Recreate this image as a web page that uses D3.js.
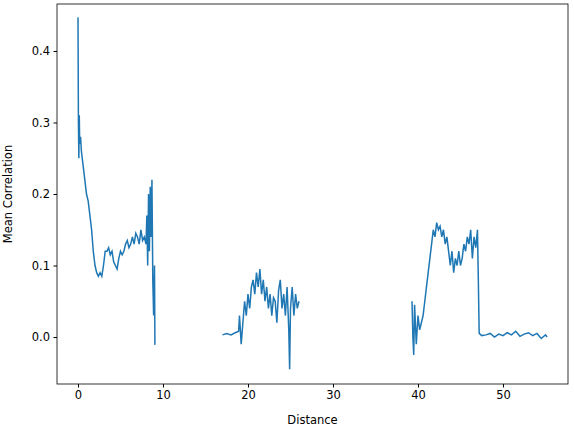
<!DOCTYPE html>
<html><head><meta charset="utf-8">
<script src="https://cdn.jsdelivr.net/npm/d3@7"></script>
<style>body{margin:0;background:#fff}text{font-family:"DejaVu Sans",sans-serif}</style>
</head><body><svg id="c" width="574" height="428"></svg>
<script>
const distance = [0,0.05,0.1,0.15,0.2,0.3,0.4,0.5,0.6,0.8,1.0,1.2,1.4,1.6,1.8,2.0,2.2,2.4,2.6,2.8,3.0,3.2,3.4,3.6,3.8,4.0,4.2,4.4,4.6,4.8,5.0,5.2,5.4,5.6,5.8,6.0,6.2,6.4,6.6,6.8,7.0,7.2,7.4,7.6,7.8,8.0,8.1,8.2,8.3,8.4,8.5,8.6,8.7,8.8,8.9,9.0,9.05,9.1,
 13,
 17,17.5,18,18.5,18.9,19.0,19.2,19.4,19.6,19.8,20.0,20.2,20.4,20.6,20.8,21.0,21.2,21.4,21.6,21.8,22.0,22.2,22.4,22.6,22.8,23.0,23.2,23.4,23.6,23.8,24.0,24.2,24.4,24.6,24.8,24.9,25.0,25.2,25.4,25.6,25.8,26.0,
 32,
 39.3,39.4,39.5,39.6,39.8,40.0,40.2,40.4,40.6,40.8,41.0,41.2,41.4,41.6,41.8,42.0,42.2,42.4,42.6,42.8,43.0,43.2,43.4,43.6,43.8,44.0,44.2,44.4,44.6,44.8,45.0,45.2,45.4,45.6,45.8,46.0,46.2,46.4,46.6,46.8,47.0,47.1,47.2,47.5,48,48.5,49,49.5,50,50.5,51,51.5,52,52.5,53,53.5,54,54.5,55,55.2];
const correlation = [0.447,0.30,0.25,0.31,0.27,0.28,0.26,0.25,0.24,0.22,0.20,0.19,0.17,0.15,0.12,0.10,0.09,0.085,0.09,0.085,0.10,0.12,0.12,0.125,0.115,0.12,0.105,0.10,0.095,0.11,0.12,0.115,0.12,0.13,0.135,0.125,0.13,0.14,0.13,0.145,0.14,0.13,0.15,0.135,0.14,0.13,0.17,0.10,0.20,0.12,0.21,0.14,0.22,0.08,0.03,0.10,-0.01,-0.01,
 null,
 0.003,0.005,0.003,0.006,0.008,0.03,-0.01,0.02,0.05,0.03,0.06,0.04,0.07,0.08,0.06,0.09,0.07,0.095,0.06,0.08,0.05,0.07,0.04,0.06,0.03,0.055,0.05,0.02,0.065,0.08,0.04,0.06,0.03,0.07,0.01,-0.045,0.04,0.07,0.03,0.06,0.04,0.05,
 null,
 0.05,0.0,-0.025,0.045,-0.01,0.03,0.01,0.02,0.03,0.05,0.07,0.09,0.11,0.13,0.15,0.14,0.16,0.15,0.155,0.14,0.15,0.13,0.14,0.12,0.10,0.12,0.09,0.11,0.10,0.12,0.10,0.11,0.13,0.12,0.14,0.13,0.15,0.11,0.14,0.125,0.15,0.08,0.005,0.002,0.003,0.005,0.0,0.004,0.002,0.006,0.003,0.008,0.001,0.004,0.006,0.002,0.005,-0.002,0.003,0.0];
const xTicks = [0,10,20,30,40,50];
const yTicks = [0.0,0.1,0.2,0.3,0.4];

const svg = d3.select("#c");
const m = {l:57,t:4,r:6,b:44}, W=574, H=428;
const x = d3.scaleLinear().domain([-2.47,57.65]).range([m.l,W-m.r]);
const y = d3.scaleLinear().domain([-0.0657,0.4657]).range([H-m.b,m.t]);
const pts = distance.map((d,i)=>[d,correlation[i]]);
svg.append("path").datum(pts)
  .attr("d", d3.line().defined(d=>d[1]!==null).x(d=>x(d[0])).y(d=>y(d[1])))
  .attr("fill","none").attr("stroke","#1f77b4").attr("stroke-width",1.5);
svg.append("rect").attr("x",m.l).attr("y",m.t).attr("width",W-m.l-m.r).attr("height",H-m.t-m.b)
  .attr("fill","none").attr("stroke","#000").attr("stroke-width",0.8);
const gx = svg.append("g").attr("transform",`translate(0,${H-m.b})`)
  .call(d3.axisBottom(x).tickValues(xTicks).tickFormat(d3.format("d")).tickSize(3.5).tickPadding(3.5));
const gy = svg.append("g").attr("transform",`translate(${m.l},0)`)
  .call(d3.axisLeft(y).tickValues(yTicks).tickFormat(d3.format(".1f")).tickSize(3.5).tickPadding(3.5));
[gx,gy].forEach(g=>{g.select(".domain").remove();g.selectAll("text").attr("font-size",11.5).attr("fill","#000");g.selectAll("line").attr("stroke","#000");});
svg.append("text").attr("x",(m.l+W-m.r)/2).attr("y",H-4).attr("text-anchor","middle").attr("font-size",11.5).text("Distance");
svg.append("text").attr("transform",`translate(12,${(m.t+H-m.b)/2}) rotate(-90)`).attr("text-anchor","middle").attr("font-size",11.5).text("Mean Correlation");
</script></body></html>
